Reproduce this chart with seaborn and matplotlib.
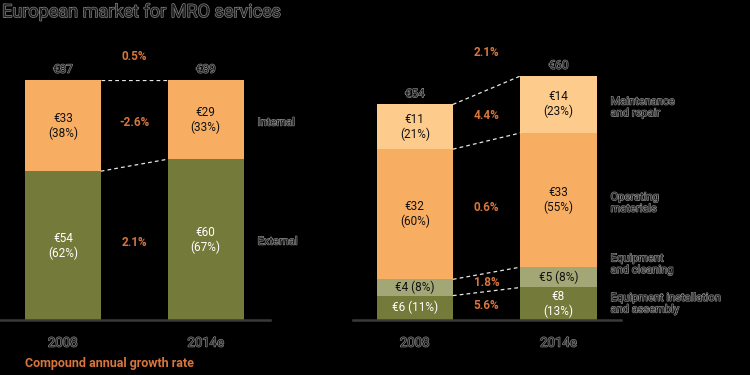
import matplotlib
matplotlib.use("Agg")
import matplotlib.pyplot as plt
import matplotlib.patheffects as pe
import seaborn as sns
import numpy as np

# data
years = ["2008", "2014e"]

left_segments = ["External", "Internal"]
left_values = [[54, 60], [33, 29]]
left_shares = [[62, 67], [38, 33]]
left_labels = [["€54\n(62%)", "€60\n(67%)"], ["€33\n(38%)", "€29\n(33%)"]]
left_totals = ["€87", "€89"]
left_cagr = ["2.1%", "-2.6%"]
left_cagr_total = "0.5%"

right_segments = ["Equipment installation\nand assembly", "Equipment\nand cleaning",
                  "Operating\nmaterials", "Maintenance\nand repair"]
right_values = [[6, 8], [4, 5], [32, 33], [11, 14]]
right_labels = [["€6 (11%)", "€8\n(13%)"], ["€4 (8%)", "€5 (8%)"],
                ["€32\n(60%)", "€33\n(55%)"], ["€11\n(21%)", "€14\n(23%)"]]
right_totals = ["€54", "€60"]
right_cagr = ["5.6%", "1.8%", "0.6%", "4.4%"]
right_cagr_total = "2.1%"

title = "European market for MRO services"

# styles
sns.set_theme(style="white")
plt.rcParams["font.family"] = ["Roboto", "DejaVu Sans"]
BG = "black"
DARK = "#1e1e1e"
ORANGE_TXT = "#d8753c"
left_colors = ["#737a3a", "#f8ae62"]
right_colors = ["#737a3a", "#a3a775", "#f8ae62", "#fdcb8b"]
inner_txt_left = ["white", "#111111"]
inner_txt_right = ["white", "#111111", "#111111", "#111111"]
# pixel nudges for the segment names on the right (to keep them apart)
left_name_dy = [-2, -3]
right_name_dy = [0, 13, -3, -3]
outline = [pe.withStroke(linewidth=0.9, foreground="#8a8a8a")]

W, H = 750, 375
fig = plt.figure(figsize=(7.5, 3.75), dpi=100, facecolor=BG)


def px_axes(x0, x1, ytop, ybot):
    return fig.add_axes([x0 / W, 1 - ybot / H, (x1 - x0) / W, (ybot - ytop) / H])


def draw_panel(ax, segments, heights, labels, colors, txtcols, totals, cagr, cagr_total,
               ymax, xlim, name_dy):
    ax.set_facecolor(BG)
    width = 0.53
    bottoms = np.zeros(len(years))
    tops = []
    for seg, vals, col in zip(segments, heights, colors):
        sns.barplot(x=years, y=vals, bottom=bottoms, color=col, width=width,
                    ax=ax, saturation=1, linewidth=0, errorbar=None)
        bottoms = bottoms + np.array(vals)
        tops.append(bottoms.copy())
    ax.set_xlim(*xlim)
    ax.set_ylim(0, ymax)

    lower = np.zeros(len(years))
    for k, (vals, labs) in enumerate(zip(heights, labels)):
        upper = tops[k]
        mids = (lower + upper) / 2
        for i in range(len(years)):
            ax.text(i, mids[i], labs[i], ha="center", va="center",
                    fontsize=8.5, color=txtcols[k], linespacing=1.15)
        # CAGR between bars
        ax.text(0.5, mids.mean(), cagr[k], ha="center", va="center",
                fontsize=8.5, fontweight="bold", color=ORANGE_TXT)
        # dashed connector at segment top
        ax.plot([0 + width / 2, 1 - width / 2], [upper[0], upper[1]], color="#e6e6e6",
                lw=0.9, ls=(0, (3, 2.5)))
        # segment name at right
        ax.annotate(segments[k], (1 + width / 2, mids[1]), xytext=(14, name_dy[k]),
                    textcoords="offset pixels", ha="left", va="center", fontsize=8,
                    color=DARK, linespacing=1.2, path_effects=outline, annotation_clip=False)
        lower = upper.copy()

    for i in range(len(years)):
        ax.annotate(totals[i], (i, tops[-1][i]), xytext=(0, 3), textcoords="offset points",
                    ha="center", va="bottom", fontsize=8.5, color=DARK, path_effects=outline)
    ax.annotate(cagr_total, (0.5, tops[-1].max()), xytext=(0, 12), textcoords="offset points",
                ha="center", va="bottom", fontsize=8.5, fontweight="bold", color=ORANGE_TXT)

    ax.set_xlabel("")
    ax.set_ylabel("")
    ax.set_yticks([])
    ax.tick_params(axis="x", length=0, pad=12)
    for lab in ax.get_xticklabels():
        lab.set_fontsize(9.5)
        lab.set_color(DARK)
        lab.set_path_effects(outline)
    for s in ["top", "left", "right"]:
        ax.spines[s].set_visible(False)
    ax.spines["bottom"].set_color("#3a3a3a")
    ax.spines["bottom"].set_linewidth(1.8)


# left panel: shares (100% stacked)
axL = px_axes(0, 270, 80, 320)
draw_panel(axL, left_segments, left_shares, left_labels, left_colors, inner_txt_left,
           left_totals, left_cagr, left_cagr_total, 100, (-0.44, 1.45), left_name_dy)

# right panel: absolute values
axR = px_axes(353, 621, 76, 320)
draw_panel(axR, right_segments, right_values, right_labels, right_colors, inner_txt_right,
           right_totals, right_cagr, right_cagr_total, 60, (-0.43, 1.435), right_name_dy)

fig.text(25 / W, 1 - 364 / H, "Compound annual growth rate", ha="left", va="center",
         fontsize=9, fontweight="bold", color=ORANGE_TXT)
fig.text(2 / W, 1 - 3 / H, title, ha="left", va="top", fontsize=13, color=DARK,
         path_effects=outline)

plt.savefig("out.png", dpi=100, facecolor=BG)
